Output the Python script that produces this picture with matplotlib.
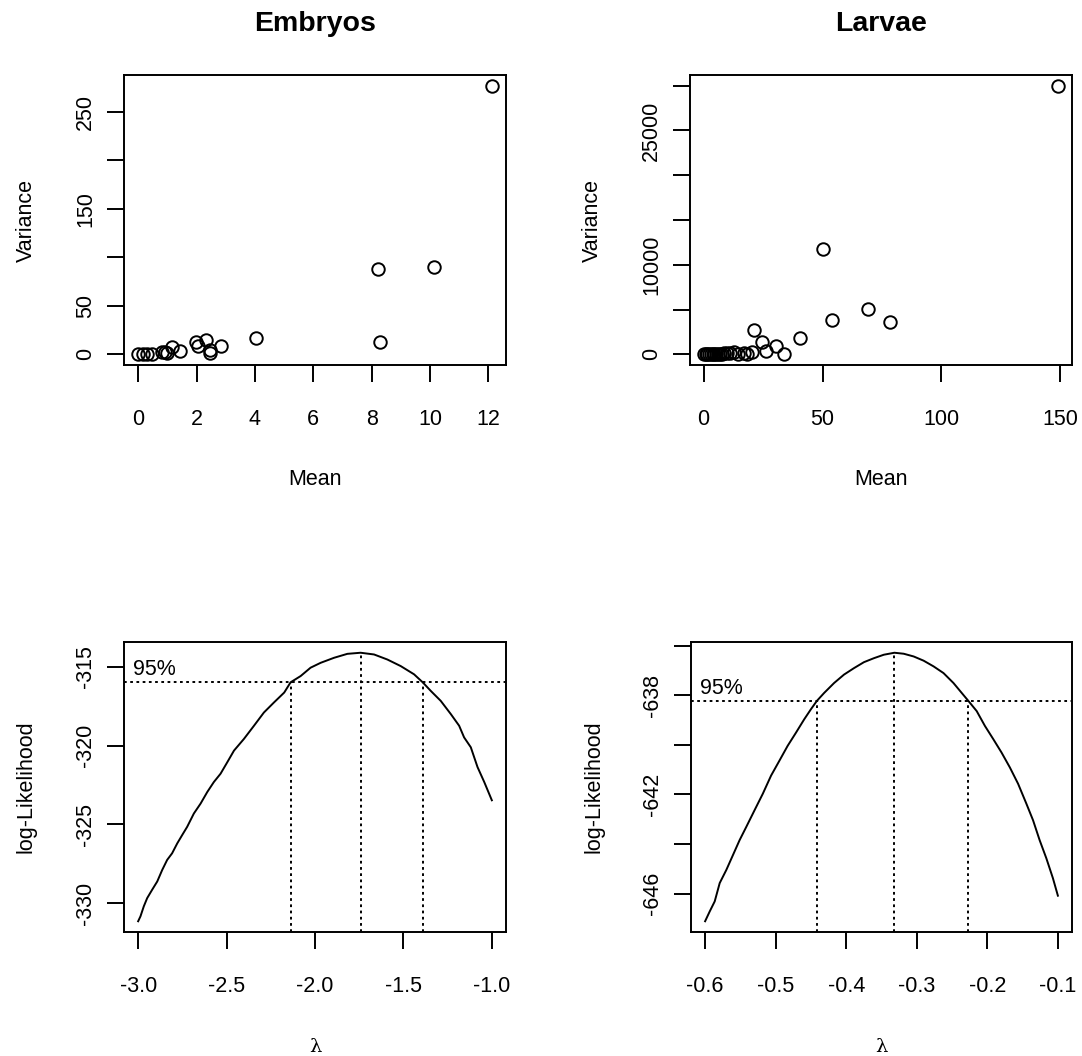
import matplotlib
matplotlib.use("Agg")
import matplotlib.pyplot as plt
import matplotlib.transforms as mtransforms

plt.rcParams['font.family'] = ['Liberation Sans', 'DejaVu Sans']
plt.rcParams['axes.unicode_minus'] = False

# mean / variance per group
emb_mean = [0.0, 0.15, 0.31, 0.48, 0.82, 0.91, 0.99, 1.16, 1.45, 1.98,
            2.04, 2.34, 2.47, 2.47, 2.83, 4.04, 8.22, 8.29, 10.14, 12.12]
emb_var = [0.0, 0.1, 0.2, 0.3, 2.0, 2.7, 1.3, 7.2, 3.7, 12.3,
           8.2, 14.7, 4.7, 1.3, 8.2, 16.4, 88.2, 12.3, 90.3, 277.0]

lar_mean = [0.2, 0.9, 1.6, 2.3, 3.0, 3.8, 4.5, 5.3, 6.0, 6.8, 7.5, 8.6, 9.8,
            11.0, 12.9, 14.6, 17.0, 18.1, 20.2, 21.2, 24.7, 26.2, 30.4,
            33.8, 40.5, 50.4, 54.0, 69.0, 78.4, 149.0]
lar_var = [0, 5, 10, 15, 20, 30, 40, 50, 60, 70, 80, 90, 100,
           120, 296, 30, 148, 20, 222, 2700, 1333, 407, 889,
           40, 1778, 11778, 3778, 5111, 3556, 30000]

# box-cox profile log-likelihoods
emb_lam = [-3.000, -2.987, -2.968, -2.949, -2.921, -2.892, -2.864, -2.836,
           -2.808, -2.779, -2.751, -2.723, -2.685, -2.647, -2.609, -2.572,
           -2.534, -2.496, -2.458, -2.402, -2.345, -2.289, -2.232, -2.174,
           -2.138, -2.081, -2.025, -1.968, -1.892, -1.817, -1.742, -1.666,
           -1.591, -1.515, -1.440, -1.391, -1.345, -1.289, -1.232, -1.185,
           -1.157, -1.119, -1.081, -1.043, -1.000]
emb_ll = [-331.16, -330.85, -330.21, -329.69, -329.16, -328.63, -327.90,
          -327.26, -326.84, -326.21, -325.68, -325.16, -324.31, -323.68,
          -322.94, -322.31, -321.78, -321.05, -320.31, -319.57, -318.73,
          -317.89, -317.25, -316.62, -315.97, -315.57, -315.04, -314.73,
          -314.41, -314.16, -314.09, -314.20, -314.52, -314.94, -315.46,
          -315.97, -316.52, -317.15, -317.99, -318.73, -319.47, -320.10,
          -321.36, -322.31, -323.47]
emb_mle, emb_max = -1.742, -314.09
emb_ci = [-2.138, -1.391]
emb_lim = -315.97

lar_lam = [-0.6000, -0.5934, -0.5864, -0.5793, -0.5699, -0.5605, -0.5511,
           -0.5417, -0.5300, -0.5182, -0.5065, -0.4947, -0.4830, -0.4712,
           -0.4595, -0.4501, -0.4416, -0.4313, -0.4172, -0.4031, -0.3890,
           -0.3749, -0.3608, -0.3467, -0.3317, -0.3185, -0.3044, -0.2903,
           -0.2762, -0.2621, -0.2480, -0.2363, -0.2269, -0.2151, -0.2034,
           -0.1916, -0.1799, -0.1681, -0.1564, -0.1447, -0.1352, -0.1259,
           -0.1164, -0.1071, -0.1000]
lar_ll = [-647.11, -646.71, -646.31, -645.57, -645.04, -644.44, -643.84,
          -643.31, -642.64, -641.97, -641.24, -640.64, -640.04, -639.51,
          -638.97, -638.57, -638.23, -637.91, -637.51, -637.17, -636.91,
          -636.67, -636.51, -636.37, -636.29, -636.33, -636.44, -636.61,
          -636.84, -637.11, -637.51, -637.91, -638.23, -638.64, -639.24,
          -639.77, -640.31, -640.91, -641.57, -642.37, -643.04, -643.84,
          -644.57, -645.37, -646.08]
lar_mle, lar_max = -0.3317, -636.29
lar_ci = [-0.4416, -0.2269]
lar_lim = -638.23

emb_xt = [0, 2, 4, 6, 8, 10, 12]
emb_yt = [0, 50, 100, 150, 200, 250]
emb_yl = ['0', '50', '', '150', '', '250']
lar_xt = [0, 50, 100, 150]
lar_yt = [0, 5000, 10000, 15000, 20000, 25000, 30000]
lar_yl = ['0', '', '10000', '', '', '25000', '']
bl_xt = [-3.0, -2.5, -2.0, -1.5, -1.0]
bl_xl = ['-3.0', '-2.5', '-2.0', '-1.5', '-1.0']
bl_yt = [-330, -325, -320, -315]
br_xt = [-0.6, -0.5, -0.4, -0.3, -0.2, -0.1]
br_xl = ['-0.6', '-0.5', '-0.4', '-0.3', '-0.2', '-0.1']
br_yt = [-646, -644, -642, -640, -638, -636]
br_yl = ['-646', '', '-642', '', '-638', '']

W, H = 1082, 1056
FS = 15.5
LW = 1.4
DOT = (0, (1.4, 1.8))


def rlim(v):
    lo, hi = min(v), max(v)
    d = 0.04 * (hi - lo)
    return lo - d, hi + d


def make_ax(left_px, top_px, w_px=382, h_px=290):
    ax = plt.gcf().add_axes([left_px / W, 1 - (top_px + h_px) / H, w_px / W, h_px / H])
    for s in ax.spines.values():
        s.set_linewidth(LW)
    ax.tick_params(direction='out', length=12, width=LW, labelsize=FS)
    ax.tick_params(axis='x', pad=19.5)
    ax.tick_params(axis='y', pad=8, labelrotation=90)
    return ax


def finish(ax, xt, xl, yt, yl, xlabel, ylabel, title=None, lam=False):
    ax.set_xticks(xt)
    ax.set_xticklabels(xl)
    ax.set_yticks(yt)
    ax.set_yticklabels(yl)
    for lab in ax.get_yticklabels():
        lab.set_verticalalignment('center')
    if lam:
        ax.text(0.5, -120 / 290, xlabel, transform=ax.transAxes, ha='center',
                va='baseline', fontsize=14, family='DejaVu Serif')
    else:
        ax.text(0.5, -120 / 290, xlabel, transform=ax.transAxes, ha='center',
                va='baseline', fontsize=FS)
    ax.text(-92 / 382, 0.5, ylabel, transform=ax.transAxes, ha='center',
            va='baseline', rotation=90, rotation_mode='anchor', fontsize=FS)
    if title:
        ax.text(0.5, 1 + 44 / 290, title, transform=ax.transAxes, ha='center',
                va='baseline', fontsize=20.5, fontweight='bold')


fig = plt.figure(figsize=(W / 100, H / 100), dpi=100)

# top left: embryos
ax = make_ax(124, 75)
ax.plot(emb_mean, emb_var, 'o', mfc='none', mec='black', ms=9, mew=LW)
ax.set_xlim(rlim(emb_mean))
ax.set_ylim(rlim(emb_var))
finish(ax, emb_xt, [str(t) for t in emb_xt], emb_yt, emb_yl, 'Mean', 'Variance', 'Embryos')

# top right: larvae
ax = make_ax(690, 75)
ax.plot(lar_mean, lar_var, 'o', mfc='none', mec='black', ms=9, mew=LW)
ax.set_xlim(rlim(lar_mean))
ax.set_ylim(rlim(lar_var))
finish(ax, lar_xt, [str(t) for t in lar_xt], lar_yt, lar_yl, 'Mean', 'Variance', 'Larvae')


def boxcox_panel(ax, lam, ll, mle, top, ci, lim):
    ax.plot(lam, ll, color='black', lw=LW)
    ax.set_xlim(rlim(lam))
    y0, y1 = rlim(ll)
    ax.set_ylim(y0, y1)
    ax.axhline(lim, color='black', lw=LW, ls=DOT)
    ax.vlines([mle], y0, top, color='black', lw=LW, ls=DOT)
    ax.vlines(ci, y0, lim, color='black', lw=LW, ls=DOT)
    tr = mtransforms.blended_transform_factory(ax.transAxes, ax.transData)
    ax.annotate('95%', xy=(0.024, lim), xycoords=tr, xytext=(0, 5),
                textcoords='offset points', ha='left', va='baseline', fontsize=FS)


ax = make_ax(124, 642)
boxcox_panel(ax, emb_lam, emb_ll, emb_mle, emb_max, emb_ci, emb_lim)
finish(ax, bl_xt, bl_xl, bl_yt, [str(t) for t in bl_yt], 'λ', 'log-Likelihood', lam=True)

ax = make_ax(691, 642, w_px=381)
boxcox_panel(ax, lar_lam, lar_ll, lar_mle, lar_max, lar_ci, lar_lim)
finish(ax, br_xt, br_xl, br_yt, br_yl, 'λ', 'log-Likelihood', lam=True)

fig.savefig('out.png', dpi=100)
